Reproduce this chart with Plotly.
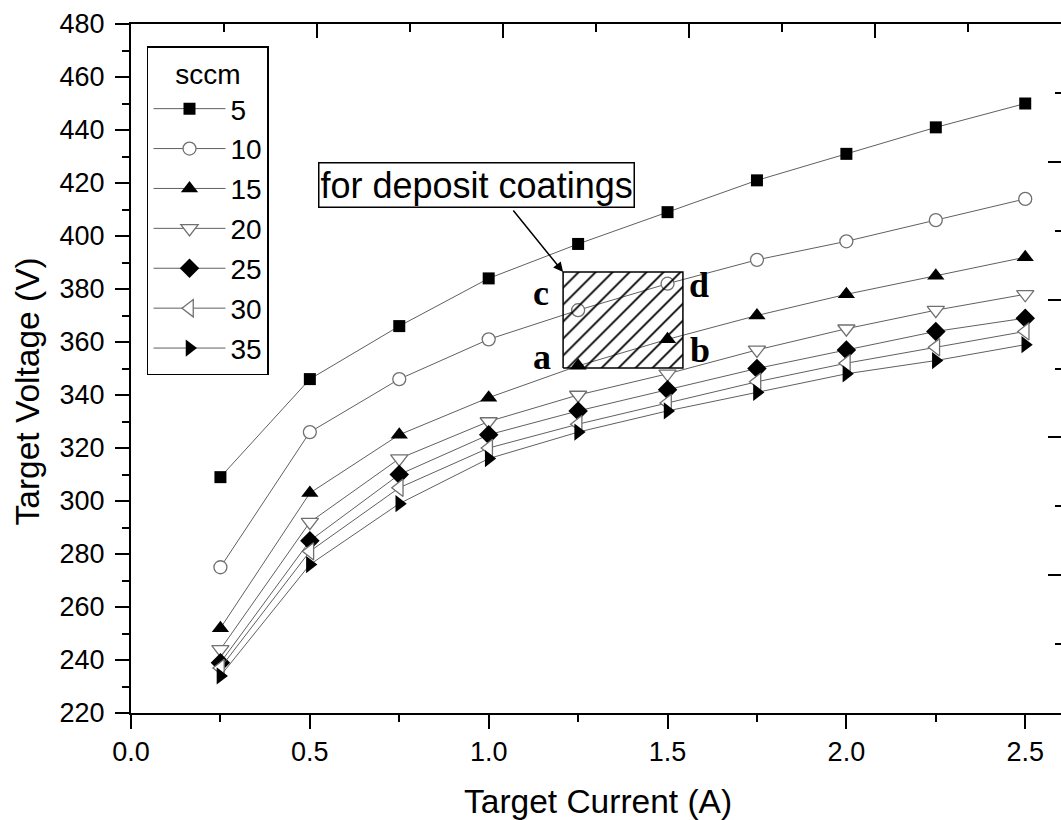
import plotly.graph_objects as go

# ---------------- data ----------------
current = [0.25, 0.5, 0.75, 1.0, 1.25, 1.5, 1.75, 2.0, 2.25, 2.5]
flows = ["5", "10", "15", "20", "25", "30", "35"]
v5 = [309, 346, 366, 384, 397, 409, 421, 431, 441, 450]
v10 = [275, 326, 346, 361, 372, 382, 391, 398, 406, 414]
v15 = [252, 303, 325, 339, 351, 361, 370, 378, 385, 392]
v20 = [244, 292, 316, 330, 340, 348, 357, 365, 372, 378]
v25 = [239, 285, 310, 325, 334, 342, 350, 357, 364, 369]
v30 = [237, 281, 305, 320, 329, 337, 345, 352, 358, 364]
v35 = [234, 276, 299, 316, 326, 334, 341, 348, 353, 359]
series = [v5, v10, v15, v20, v25, v30, v35]
y_ticks = list(range(220, 481, 20))
x_ticks = [0.0, 0.5, 1.0, 1.5, 2.0, 2.5]

# deposit window (region a-b-c-d)
REG_X0, REG_X1 = 1.208, 1.543
REG_Y0, REG_Y1 = 350.2, 386.4

# ---------------- styles ----------------
FONT = "Liberation Sans, Arial, sans-serif"
SERIF = "Liberation Serif, Times New Roman, serif"
LINE_COL = "#606060"
OPEN_COL = "#707070"
styles = [
    dict(symbol="square", color="black", line=dict(width=0), size=12),
    dict(symbol="circle", color="white", line=dict(width=1.3, color=OPEN_COL), size=13),
    dict(symbol="triangle-up", color="black", line=dict(width=0), size=15),
    dict(symbol="triangle-down", color="white", line=dict(width=1.3, color=OPEN_COL), size=15),
    dict(symbol="diamond", color="black", line=dict(width=0), size=15),
    dict(symbol="triangle-left", color="white", line=dict(width=1.3, color=OPEN_COL), size=15),
    dict(symbol="triangle-right", color="black", line=dict(width=0), size=15),
]

fig = go.Figure()
for name, vals, st in zip(flows, series, styles):
    fig.add_trace(go.Scatter(
        x=current, y=vals, name=name, mode="lines+markers",
        line=dict(color=LINE_COL, width=1),
        marker=st, legendgroup=name,
    ))

# hatched region
fig.add_trace(go.Scatter(
    x=[REG_X0, REG_X1, REG_X1, REG_X0, REG_X0],
    y=[REG_Y0, REG_Y0, REG_Y1, REG_Y1, REG_Y0],
    mode="lines", fill="toself",
    fillcolor="rgba(255,255,255,0)",
    fillpattern=dict(shape="/", fgcolor="black", fgopacity=1,
                     bgcolor="rgba(255,255,255,0)", size=12, solidity=0.15),
    line=dict(color="black", width=1.5),
    showlegend=False, hoverinfo="skip",
))

# invisible trace to host the secondary (mirror) axes
fig.add_trace(go.Scatter(x=[None], y=[None], xaxis="x2", yaxis="y2",
                         showlegend=False, hoverinfo="skip"))

axis_common = dict(showgrid=False, zeroline=False, linecolor="black", linewidth=2,
                   tickcolor="black", tickwidth=2)

fig.update_layout(
    width=1061, height=820,
    margin=dict(l=131, r=0, t=24, b=107),
    paper_bgcolor="white", plot_bgcolor="white",
    font=dict(family=FONT, color="black", size=27),
    xaxis=dict(range=[0, 2.6], tickvals=x_ticks, tickformat=".1f",
               ticks="outside", ticklen=14, showline=True,
               minor=dict(dtick=0.25, tick0=0, ticks="outside", ticklen=7,
                          tickwidth=2, tickcolor="black"),
               tickfont=dict(size=27, family=FONT), **axis_common),
    yaxis=dict(range=[220, 480], tickvals=y_ticks,
               ticks="outside", ticklen=14, showline=True, ticklabelstandoff=5,
               minor=dict(dtick=10, tick0=220, ticks="outside", ticklen=7,
                          tickwidth=2, tickcolor="black"),
               tickfont=dict(size=27, family=FONT), **axis_common),
    xaxis2=dict(overlaying="x", side="top", anchor="y", range=[0, 10],
                tick0=0, dtick=2, ticks="inside", ticklen=14, showticklabels=False,
                showline=True,
                minor=dict(dtick=1, tick0=0, ticks="inside", ticklen=8,
                           tickwidth=2, tickcolor="black"),
                **axis_common),
    yaxis2=dict(overlaying="y", side="right", anchor="x", range=[0, 10],
                tick0=0, dtick=2, ticks="inside", ticklen=13, showticklabels=False,
                showgrid=False, zeroline=False, showline=False,
                tickcolor="black", tickwidth=2,
                minor=dict(dtick=1, tick0=0, ticks="inside", ticklen=6,
                           tickwidth=2, tickcolor="black")),
    legend=dict(x=0.0172, y=0.968, xanchor="left", yanchor="top",
                bgcolor="white", bordercolor="black", borderwidth=1.5,
                font=dict(size=28, family=FONT, color="black"),
                title=dict(text="sccm", side="top center",
                           font=dict(size=28, family=FONT)),
                tracegroupgap=0.5, itemwidth=72),
    showlegend=True,
)

annotations = [
    dict(text="Target Current (A)", xref="paper", yref="paper", x=0.502, y=-0.129,
         xanchor="center", yanchor="middle", showarrow=False,
         font=dict(size=33.5, family=FONT)),
    dict(text="Target Voltage (V)", xref="paper", yref="paper", x=-0.1108, y=0.4666,
         xanchor="center", yanchor="middle", showarrow=False, textangle=-90,
         font=dict(size=33.5, family=FONT)),
    dict(text="for deposit coatings", xref="x", yref="y", x=0.966, y=419.2,
         xanchor="center", yanchor="middle", showarrow=False,
         bgcolor="white", bordercolor="black", borderwidth=1.5, borderpad=1,
         font=dict(size=36, family=FONT)),
    dict(text="", xref="x", yref="y", x=REG_X0, y=REG_Y1, ax=-51, ay=-63,
         showarrow=True, arrowhead=2, arrowsize=1.3, arrowwidth=1.5,
         arrowcolor="black", standoff=0),
    dict(text="<b>c</b>", xref="x", yref="y", x=1.146, y=378.5, showarrow=False,
         font=dict(size=36, family=SERIF)),
    dict(text="<b>d</b>", xref="x", yref="y", x=1.588, y=381.5, showarrow=False,
         font=dict(size=36, family=SERIF)),
    dict(text="<b>a</b>", xref="x", yref="y", x=1.149, y=354.5, showarrow=False,
         font=dict(size=36, family=SERIF)),
    dict(text="<b>b</b>", xref="x", yref="y", x=1.591, y=357.0, showarrow=False,
         font=dict(size=36, family=SERIF)),
]
fig.update_layout(annotations=annotations)

fig.write_html("out.html")
